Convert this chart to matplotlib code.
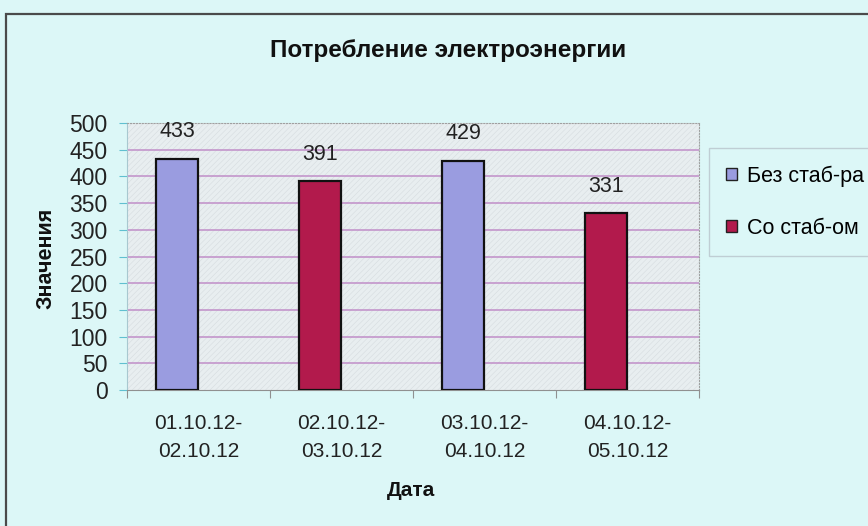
import matplotlib
matplotlib.use("Agg")
import matplotlib.pyplot as plt
import numpy as np
from matplotlib.patches import Patch, Rectangle

plt.rcParams['font.family'] = ['Liberation Sans', 'DejaVu Sans']
plt.rcParams['hatch.linewidth'] = 0.4

# данные
categories = ['01.10.12-\n02.10.12', '02.10.12-\n03.10.12',
              '03.10.12-\n04.10.12', '04.10.12-\n05.10.12']
bez_stab = [433, np.nan, 429, np.nan]
so_stab = [np.nan, 391, np.nan, 331]
series_names = ['Без стаб-ра', 'Со стаб-ом']
y_ticks = list(range(0, 501, 50))

bg = '#dcf7f7'
blue = '#9a9ce0'
red = '#b21a4c'

fig = plt.figure(figsize=(8.68, 5.26), dpi=100, facecolor=bg)
ax = fig.add_axes([127/868, 1 - 390/526, (699 - 127)/868, (390 - 123)/526])
ax.set_facecolor('#e8eef0')
ax.add_patch(Rectangle((0, 0), 1, 1, transform=ax.transAxes, facecolor='none',
                       edgecolor='#d6dcdf', hatch='//////', lw=0, zorder=0))

x = np.arange(len(categories))
shift = -0.15
width = 0.29

for vals, col in [(bez_stab, blue), (so_stab, red)]:
    for xi, v in zip(x, vals):
        if np.isnan(v):
            continue
        ax.bar(xi + shift, v, width, color=col, edgecolor='#111111', lw=1.6, zorder=3)
        ax.annotate(f'{v:.0f}', (xi + shift, v), xytext=(0, 12), textcoords='offset points',
                    ha='center', va='bottom', fontsize=15.5, color='#222222')

for y in y_ticks[1:-1]:
    ax.axhline(y, color='#c08ec8', lw=1.1, zorder=1)

ax.set_xlim(-0.5, 3.5)
ax.set_ylim(0, 500)
ax.set_yticks(y_ticks)
ax.tick_params(axis='y', length=6, color='#60c0d0', pad=8, labelsize=16.5, labelcolor='#222222')

ax.set_xticks(np.arange(-0.5, 3.6, 1))
ax.set_xticklabels([])
ax.set_xticks(x, minor=True)
ax.set_xticklabels(categories, minor=True, fontsize=15, color='#222222', linespacing=1.6)
ax.tick_params(axis='x', which='major', length=6, color='#909090', direction='out')
ax.tick_params(axis='x', which='minor', length=0, pad=17)

ax.spines['left'].set_color('#a8c8d0')
ax.spines['bottom'].set_color('#909090')
for s in ['top', 'right']:
    ax.spines[s].set_color('#a0a0a0')
    ax.spines[s].set_linestyle(':')

fig.text(448/868, 1 - 51/526, 'Потребление электроэнергии', ha='center', va='center',
         fontsize=17.5, fontweight='bold', color='#111111')
fig.text(46/868, 1 - 258/526, 'Значения', ha='center', va='center', rotation=90,
         fontsize=15.5, fontweight='bold', color='#111111')
fig.text(411/868, 1 - 491/526, 'Дата', ha='center', va='center',
         fontsize=15, fontweight='bold', color='#111111')

# рамка области диаграммы
fig.patches.append(Rectangle((6/868, -0.2), 1.2, 0.2 + 1 - 14/526, transform=fig.transFigure,
                             facecolor='none', edgecolor='#4a4a4a', lw=1.6))

handles = [Patch(facecolor=blue, edgecolor='#222222'), Patch(facecolor=red, edgecolor='#222222')]
leg = fig.legend(handles, series_names, loc='upper left', bbox_to_anchor=(709/868, 1 - 148/526),
                 fontsize=15.5, frameon=True, fancybox=False, handlelength=0.5, handleheight=0.5,
                 handletextpad=0.45, labelspacing=1.45, borderpad=0.8, borderaxespad=0)
leg.get_frame().set_edgecolor('#b8c4cc')
leg.get_frame().set_facecolor(bg)
leg.get_frame().set_linewidth(1.0)

fig.savefig('out.png', dpi=100, facecolor=bg)
